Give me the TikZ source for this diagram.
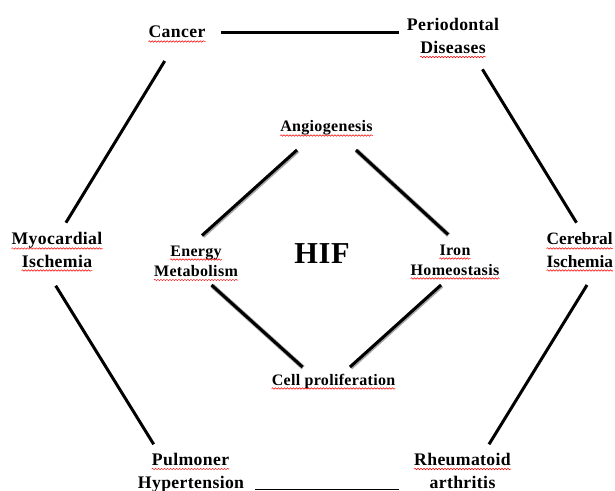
\documentclass[tikz,border=0pt]{standalone}
\usepackage{fontspec}
\setmainfont{Liberation Serif}[LetterSpace=2]
\newfontfamily\tightserif{Liberation Serif}
\usetikzlibrary{decorations.pathmorphing}
\tikzset{
  outerlabel/.style={font=\fontsize{17.7bp}{21bp}\selectfont\bfseries, inner sep=0pt, anchor=base},
  edgelabel/.style={font=\tightserif\fontsize{17.3bp}{21bp}\selectfont\bfseries, inner sep=0pt, anchor=base west},
  innerlabel/.style={font=\fontsize{16bp}{19bp}\selectfont\bfseries, inner sep=0pt, anchor=base},
  hiflabel/.style={font=\fontsize{30.4bp}{34bp}\selectfont\bfseries, inner sep=0pt, anchor=base},
  link/.style={line width=3bp, black},
  thinlink/.style={line width=1.6bp, black},
  shadowlink/.style={line width=4.6bp, black!35, transform canvas={xshift=0.6bp, yshift=-0.6bp}},
  squig/.style={red, line width=0.5bp, decorate, decoration={snake, segment length=3bp, amplitude=0.75bp}},
}
\newcommand{\squigunder}[1]{\draw[squig] ([yshift=-3.5bp]#1.base west) -- ([yshift=-3.5bp]#1.base east);}
\begin{document}
\begin{tikzpicture}[x=1bp,y=-1bp]
\useasboundingbox (0,0) rectangle (615,491);
\fill[white] (0,0) rectangle (615,491);

% outer labels
\node[outerlabel] (cancer) at (177,38) {Cancer};
\node[outerlabel] (perio1) at (453,30.5) {Periodontal};
\node[outerlabel] (perio2) at (453,53.5) {Diseases};
\node[outerlabel] (myo1) at (57,245) {Myocardial};
\node[outerlabel] (myo2) at (57,267) {Ischemia};
\node[edgelabel] (cer1) at (546.5,245) {Cerebral};
\node[edgelabel] (cer2) at (546.5,267) {Ischemia};
\node[outerlabel] (pul1) at (190.5,465.5) {Pulmoner};
\node[outerlabel] (pul2) at (191,488) {Hypertension};
\node[outerlabel] (rhe1) at (462.5,465.5) {Rheumatoid};
\node[outerlabel] (rhe2) at (462.5,488) {arthritis};

% inner labels
\node[innerlabel] (angio) at (326.5,132) {Angiogenesis};
\node[innerlabel] (energy1) at (196,256) {Energy};
\node[innerlabel] (energy2) at (196,276.5) {Metabolism};
\node[innerlabel] (iron1) at (455,255) {Iron};
\node[innerlabel] (iron2) at (455,275) {Homeostasis};
\node[innerlabel] (cell) at (333.5,385) {Cell proliferation};
\node[hiflabel] (hif) at (322,263) {HIF};

% spelling squiggles
\squigunder{cancer}
\squigunder{perio2}
\squigunder{myo1}
\squigunder{myo2}
\squigunder{cer1}
\squigunder{cer2}
\squigunder{pul1}
\squigunder{rhe1}
\squigunder{angio}
\squigunder{energy1}
\squigunder{energy2}
\squigunder{iron1}
\squigunder{iron2}
\squigunder{cell}

% connector end points
\coordinate (cancerR) at (220.8,32.3);
\coordinate (perioL) at (398.8,32.3);
\coordinate (cancerB) at (164.7,61);
\coordinate (myoT) at (65.9,222.7);
\coordinate (myoB) at (55.7,285.7);
\coordinate (pulT) at (153.7,444.3);
\coordinate (perioB) at (482.4,69.3);
\coordinate (cerT) at (576.5,222.7);
\coordinate (cerB) at (587,285);
\coordinate (rheT) at (489,444.3);
\coordinate (pulR) at (255,489.5);
\coordinate (rheL) at (398.8,489.5);

\coordinate (angioL) at (297,150);
\coordinate (angioR) at (356,150);
\coordinate (energyT) at (202,235.5);
\coordinate (energyB) at (211.5,285);
\coordinate (ironT) at (448,234.5);
\coordinate (ironB) at (441,285);
\coordinate (cellL) at (302.5,367);
\coordinate (cellR) at (350,367);

% outer hexagon
\draw[link] (cancerR) -- (perioL);
\draw[link] (cancerB) -- (myoT);
\draw[link] (myoB) -- (pulT);
\draw[link] (perioB) -- (cerT);
\draw[link] (cerB) -- (rheT);
\draw[thinlink] (pulR) -- (rheL);

% inner diamond (soft shadow, then line)
\draw[shadowlink] (angioL) -- (energyT);
\draw[shadowlink] (angioR) -- (ironT);
\draw[shadowlink] (energyB) -- (cellL);
\draw[shadowlink] (ironB) -- (cellR);
\draw[link] (angioL) -- (energyT);
\draw[link] (angioR) -- (ironT);
\draw[link] (energyB) -- (cellL);
\draw[link] (ironB) -- (cellR);
\end{tikzpicture}
\end{document}
